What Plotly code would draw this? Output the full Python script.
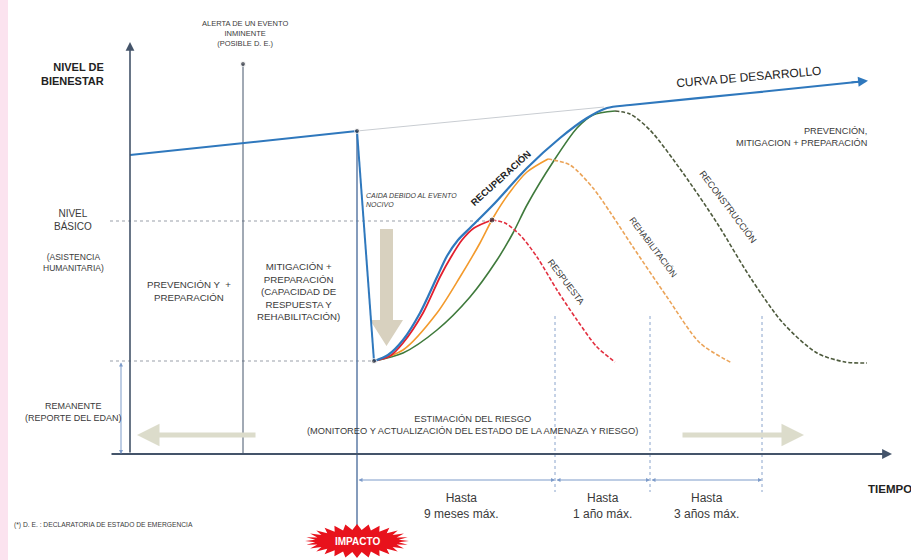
import numpy as np
import plotly.graph_objects as go

# Diagram coordinates, in picture space (x right, y down)
W, H = 911, 560

# development curve before the event and the dotted trend it would have followed
PRE_X = [130, 357]
PRE_Y = [155, 131]
TREND_X = [357, 604]
TREND_Y = [131, 107]
DROP_X = [357, 374]
DROP_Y = [131, 361]

# recovery (blue) runs into the development curve
RECOV_X = [374, 388, 403, 420, 437, 447, 458, 470, 493, 527, 560, 587, 607, 630, 750, 866]
RECOV_Y = [361, 355, 340, 313, 277, 256, 240, 228, 205, 168, 138, 118, 108, 105, 93, 81]

# response (red)
RESP_X = [374, 390, 403, 423, 440, 451, 462, 474, 492]
RESP_Y = [361, 356, 343, 313, 277, 257, 240, 228, 220]
RESP_DOWN_X = [492, 505, 520, 537, 557, 577, 597, 615]
RESP_DOWN_Y = [220, 223, 235, 257, 290, 320, 347, 362]

# rehabilitation (orange)
REHAB_X = [374, 403, 437, 460, 480, 493, 510, 527, 548]
REHAB_Y = [361, 350, 313, 277, 243, 218, 192, 172, 159]
REHAB_DOWN_X = [548, 570, 593, 610, 633, 667, 700, 732]
REHAB_DOWN_Y = [159, 165, 188, 212, 247, 297, 343, 363]

# reconstruction (green)
RECON_X = [374, 403, 437, 470, 497, 513, 527, 553, 577, 593, 615]
RECON_Y = [361, 353, 330, 297, 260, 233, 205, 162, 128, 115, 111]
RECON_DOWN_X = [615, 630, 650, 683, 717, 750, 783, 817, 845, 867]
RECON_DOWN_Y = [111, 114, 130, 173, 223, 277, 323, 353, 362, 363]

# levels and phase limits
BASIC_LEVEL = 221
REMNANT_LEVEL = 361
AXIS_X0, AXIS_Y0 = 130, 454
ALERT_X = 243
IMPACT_X = 357
PHASE_LIMITS = [357, 555, 650, 762]
PHASE_TEXT = ["Hasta<br>9 meses máx.", "Hasta<br>1 año máx.", "Hasta<br>3 años máx."]

BLUE = "#2f78bd"
AXIS = "#44546a"
TXT = "#3a3a3a"
FONT = "Liberation Sans Narrow, Arial Narrow, Liberation Sans, Arial"

fig = go.Figure()


def line(x, y, color, width=2, dash="solid", shape="spline"):
    fig.add_trace(go.Scatter(
        x=x, y=y, mode="lines",
        line=dict(color=color, width=width, dash=dash, shape=shape, smoothing=0.8),
        hoverinfo="skip", showlegend=False,
    ))


def arrow(x0, y0, x1, y1, color, width=1, head=2, size=1.0, side="end"):
    fig.add_annotation(
        x=x1, y=y1, ax=x0, ay=y0, xref="x", yref="y", axref="x", ayref="y",
        text="", showarrow=True, arrowhead=head, startarrowhead=head,
        arrowsize=size, startarrowsize=size, arrowwidth=width,
        arrowcolor=color, arrowside=side,
    )


def label(x, y, text, size=10, color=TXT, angle=0, align="center",
          xanchor="center", bold=False, italic=False):
    if bold:
        text = f"<b>{text}</b>"
    if italic:
        text = f"<i>{text}</i>"
    fig.add_annotation(
        x=x, y=y, xref="x", yref="y", text=text, showarrow=False,
        textangle=angle, align=align, xanchor=xanchor, yanchor="middle",
        font=dict(family=FONT, size=size, color=color),
    )


# pink strip at the left edge of the slide
fig.add_shape(type="rect", x0=0, x1=8, y0=0, y1=H, fillcolor="#fbe3ef",
              line_width=0, layer="below")

# reference levels and guides
line([110, 491], [BASIC_LEVEL] * 2, "#9aa0aa", 1.2, "dot", "linear")
line([110, 374], [REMNANT_LEVEL] * 2, "#9aa0aa", 1.2, "dot", "linear")
for xv in PHASE_LIMITS[1:]:
    line([xv, xv], [316, 492], "#8aa4cc", 1, "dot", "linear")
line([ALERT_X, ALERT_X], [64, AXIS_Y0], AXIS, 1, shape="linear")
line([IMPACT_X, IMPACT_X], [131, 528], "#5d7ba6", 1.5, shape="linear")
line(TREND_X, TREND_Y, "#c9cdd2", 1, shape="linear")

# axes
arrow(AXIS_X0, AXIS_Y0, AXIS_X0, 42, AXIS, 1.6, 2, 1.1)
arrow(110, AXIS_Y0, 892, AXIS_Y0, AXIS, 1.8, 2, 1.1)

# interval markers below the time axis
for a, b in zip(PHASE_LIMITS[:-1], PHASE_LIMITS[1:]):
    arrow(a, 480, b, 480, "#7d9bc9", 1, 2, 0.8, "end+start")
arrow(121, REMNANT_LEVEL, 121, AXIS_Y0, "#7d9bc9", 1, 2, 0.8, "end+start")

# beige trend arrows
arrow(257, 435, 137, 435, "#dcdccb", 5, 2, 0.9)
arrow(681, 435, 804, 435, "#dcdccb", 5, 2, 0.9)

# big down arrow (fall due to the event)
fig.add_shape(type="path",
              path="M 380 229 L 393 229 L 393 320 L 403 320 L 386.5 346 L 370 320 L 380 320 Z",
              fillcolor="#d8d1bf", line_width=0, layer="below")

# development curve and recovery curves
line(PRE_X, PRE_Y, BLUE, 2, shape="linear")
line(DROP_X, DROP_Y, BLUE, 2, shape="linear")
line(RECON_X, RECON_Y, "#3f7a3c", 1.6)
line(RECON_DOWN_X, RECON_DOWN_Y, "#4d5a3c", 1.6, "4px,2px")
line(REHAB_X, REHAB_Y, "#f39a2c", 1.6)
line(REHAB_DOWN_X, REHAB_DOWN_Y, "#eba459", 1.6, "4px,2px")
line(RESP_X, RESP_Y, "#e3202e", 1.8)
line(RESP_DOWN_X, RESP_DOWN_Y, "#e23040", 1.6, "4px,2px")
line(RECOV_X, RECOV_Y, BLUE, 2.2)
arrow(850, 82.6, 868, 80.8, BLUE, 1.8, 2, 1.1)

fig.add_trace(go.Scatter(
    x=[ALERT_X, IMPACT_X, 492, 374], y=[64, 131, 220, 361], mode="markers",
    marker=dict(color="#2b2f3a", size=[5, 5, 6, 5]),
    hoverinfo="skip", showlegend=False,
))

# impact starburst
n = 28
ang = np.linspace(0, 2 * np.pi, 2 * n, endpoint=False)
rx = np.where(np.arange(2 * n) % 2 == 0, 52, 42)
ry = np.where(np.arange(2 * n) % 2 == 0, 17, 11)
px = IMPACT_X + rx * np.cos(ang)
py = 541 + ry * np.sin(ang)
star = "M " + " L ".join(f"{a:.1f} {b:.1f}" for a, b in zip(px, py)) + " Z"
fig.add_shape(type="path", path=star, fillcolor="#e8121c", line_width=0)
label(IMPACT_X, 541, "IMPACTO", 10, "white", bold=True)

# texts
label(106, 74, "NIVEL DE<br>BIENESTAR", 11, "#222222", align="right", xanchor="right", bold=True)
label(245, 33, "ALERTA DE UN EVENTO<br>INMINENTE<br>(POSIBLE D. E.)", 7.5, align="center")
label(73, 220, "NIVEL<br>BÁSICO", 10)
label(73, 262, "(ASISTENCIA<br>HUMANITARIA)", 8.5)
label(189, 291, "PREVENCIÓN Y  +<br>PREPARACIÓN", 9.7)
label(298, 291, "MITIGACIÓN +<br>PREPARACIÓN<br>(CAPACIDAD DE<br>RESPUESTA Y<br>REHABILITACIÓN)", 9.7)
label(73, 412, "REMANENTE<br>(REPORTE DEL EDAN)", 9)
label(364, 200, "CAIDA DEBIDO AL EVENTO<br>NOCIVO", 7, align="left", xanchor="left", italic=True)
label(749, 77, "CURVA DE DESARROLLO", 12, "#222222", angle=-5)
label(869, 137, "PREVENCIÓN,<br>MITIGACION + PREPARACIÓN", 9.2, align="right", xanchor="right")
label(500, 178, "RECUPERACIÓN", 9.5, "#222222", angle=-42, bold=True)
label(566, 282, "RESPUESTA", 9, angle=53)
label(653, 247, "REHABILITACIÓN", 8.8, angle=53)
label(728, 207, "RECONSTRUCCIÓN", 9.2, angle=53)
label(472, 425, "ESTIMACIÓN DEL RIESGO<br>(MONITOREO Y ACTUALIZACIÓN DEL ESTADO DE LA AMENAZA Y RIESGO)", 9.3)
for a, b, t in zip(PHASE_LIMITS[:-1], PHASE_LIMITS[1:], PHASE_TEXT):
    label((a + b) / 2 + (5 if a == 357 else 0), 506, t, 12)
label(866, 489, "TIEMPO", 11.5, "#222222", align="left", xanchor="left", bold=True)
label(12, 525, "(*) D. E. : DECLARATORIA DE ESTADO DE EMERGENCIA", 6.7, align="left", xanchor="left")

fig.update_xaxes(range=[0, W], visible=False, fixedrange=True)
fig.update_yaxes(range=[H, 0], visible=False, fixedrange=True)
fig.update_layout(
    width=W, height=H,
    margin=dict(l=0, r=0, t=0, b=0, autoexpand=False),
    plot_bgcolor="white", paper_bgcolor="white",
    showlegend=False,
)

# the page body has a default margin that would shift the slide
fig.write_html("out.html", post_script="document.body.style.margin='0';",
               config={"displayModeBar": False})
